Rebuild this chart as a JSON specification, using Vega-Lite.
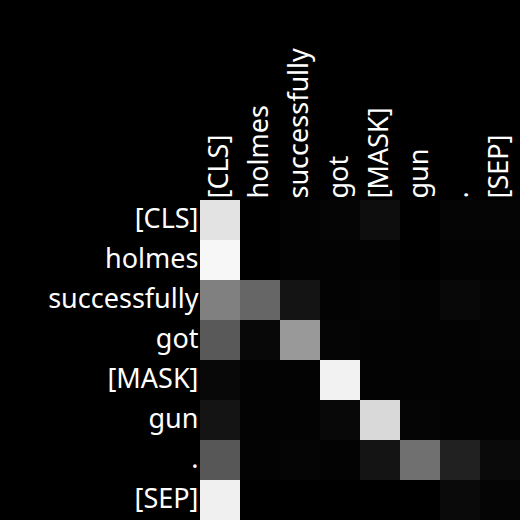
{
  "$schema": "https://vega.github.io/schema/vega-lite/v6.json",
  "autosize": "none",
  "width": 320,
  "height": 320,
  "padding": {"left": 200, "top": 200, "right": 0, "bottom": 0},
  "background": "black",
  "config": {"view": {"stroke": null}, "font": "Noto Sans"},
  "data": {"values": [
    {"row": "[CLS]", "col": "[CLS]", "v": 0.89},
    {"row": "[CLS]", "col": "holmes", "v": 0.0},
    {"row": "[CLS]", "col": "successfully", "v": 0.01},
    {"row": "[CLS]", "col": "got", "v": 0.02},
    {"row": "[CLS]", "col": "[MASK]", "v": 0.05},
    {"row": "[CLS]", "col": "gun", "v": 0.0},
    {"row": "[CLS]", "col": ".", "v": 0.02},
    {"row": "[CLS]", "col": "[SEP]", "v": 0.02},
    {"row": "holmes", "col": "[CLS]", "v": 0.97},
    {"row": "holmes", "col": "holmes", "v": 0.0},
    {"row": "holmes", "col": "successfully", "v": 0.01},
    {"row": "holmes", "col": "got", "v": 0.01},
    {"row": "holmes", "col": "[MASK]", "v": 0.01},
    {"row": "holmes", "col": "gun", "v": 0.0},
    {"row": "holmes", "col": ".", "v": 0.01},
    {"row": "holmes", "col": "[SEP]", "v": 0.01},
    {"row": "successfully", "col": "[CLS]", "v": 0.5},
    {"row": "successfully", "col": "holmes", "v": 0.4},
    {"row": "successfully", "col": "successfully", "v": 0.08},
    {"row": "successfully", "col": "got", "v": 0.01},
    {"row": "successfully", "col": "[MASK]", "v": 0.02},
    {"row": "successfully", "col": "gun", "v": 0.01},
    {"row": "successfully", "col": ".", "v": 0.03},
    {"row": "successfully", "col": "[SEP]", "v": 0.02},
    {"row": "got", "col": "[CLS]", "v": 0.35},
    {"row": "got", "col": "holmes", "v": 0.03},
    {"row": "got", "col": "successfully", "v": 0.6},
    {"row": "got", "col": "got", "v": 0.02},
    {"row": "got", "col": "[MASK]", "v": 0.01},
    {"row": "got", "col": "gun", "v": 0.01},
    {"row": "got", "col": ".", "v": 0.01},
    {"row": "got", "col": "[SEP]", "v": 0.02},
    {"row": "[MASK]", "col": "[CLS]", "v": 0.03},
    {"row": "[MASK]", "col": "holmes", "v": 0.01},
    {"row": "[MASK]", "col": "successfully", "v": 0.01},
    {"row": "[MASK]", "col": "got", "v": 0.95},
    {"row": "[MASK]", "col": "[MASK]", "v": 0.01},
    {"row": "[MASK]", "col": "gun", "v": 0.01},
    {"row": "[MASK]", "col": ".", "v": 0.01},
    {"row": "[MASK]", "col": "[SEP]", "v": 0.01},
    {"row": "gun", "col": "[CLS]", "v": 0.08},
    {"row": "gun", "col": "holmes", "v": 0.01},
    {"row": "gun", "col": "successfully", "v": 0.01},
    {"row": "gun", "col": "got", "v": 0.03},
    {"row": "gun", "col": "[MASK]", "v": 0.85},
    {"row": "gun", "col": "gun", "v": 0.02},
    {"row": "gun", "col": ".", "v": 0.01},
    {"row": "gun", "col": "[SEP]", "v": 0.01},
    {"row": ".", "col": "[CLS]", "v": 0.34},
    {"row": ".", "col": "holmes", "v": 0.01},
    {"row": ".", "col": "successfully", "v": 0.02},
    {"row": ".", "col": "got", "v": 0.01},
    {"row": ".", "col": "[MASK]", "v": 0.08},
    {"row": ".", "col": "gun", "v": 0.44},
    {"row": ".", "col": ".", "v": 0.13},
    {"row": ".", "col": "[SEP]", "v": 0.04},
    {"row": "[SEP]", "col": "[CLS]", "v": 0.94},
    {"row": "[SEP]", "col": "holmes", "v": 0.0},
    {"row": "[SEP]", "col": "successfully", "v": 0.0},
    {"row": "[SEP]", "col": "got", "v": 0.0},
    {"row": "[SEP]", "col": "[MASK]", "v": 0.0},
    {"row": "[SEP]", "col": "gun", "v": 0.0},
    {"row": "[SEP]", "col": ".", "v": 0.04},
    {"row": "[SEP]", "col": "[SEP]", "v": 0.02}
  ]},
  "mark": {"type": "rect"},
  "encoding": {
    "x": {
      "field": "col", "type": "nominal",
      "sort": ["[CLS]", "holmes", "successfully", "got", "[MASK]", "gun", ".", "[SEP]"],
      "scale": {"paddingInner": 0, "paddingOuter": 0},
      "axis": {"orient": "top", "title": null, "ticks": false, "domain": false, "labelAngle": -90, "labelAlign": "left", "labelBaseline": "middle", "labelFontSize": 27, "labelColor": "white", "labelPadding": 2, "labelFont": "Noto Sans"}
    },
    "y": {
      "field": "row", "type": "nominal",
      "sort": ["[CLS]", "holmes", "successfully", "got", "[MASK]", "gun", ".", "[SEP]"],
      "scale": {"paddingInner": 0, "paddingOuter": 0},
      "axis": {"title": null, "ticks": false, "domain": false, "labelFontSize": 27, "labelColor": "white", "labelPadding": 2, "labelFont": "Noto Sans"}
    },
    "color": {
      "field": "v", "type": "quantitative",
      "scale": {"domain": [0, 1], "range": ["#000000", "#ffffff"], "interpolate": "rgb"},
      "legend": null
    }
  }
}
